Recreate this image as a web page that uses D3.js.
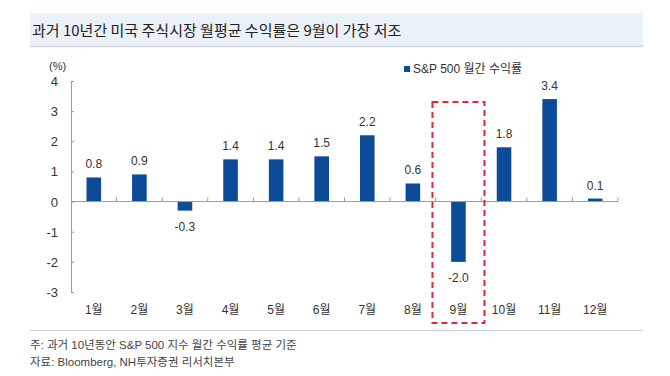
<!DOCTYPE html>
<html>
<head>
<meta charset="utf-8">
<script src="https://cdn.jsdelivr.net/npm/d3@7"></script>
<style>
  body { margin: 0; background: #fff; }
  svg { display: block; }
</style>
</head>
<body>
<svg id="chart" width="670" height="376"></svg>
<script>
const months = ["1월", "2월", "3월", "4월", "5월", "6월", "7월", "8월", "9월", "10월", "11월", "12월"];
const returns = [0.8, 0.9, -0.3, 1.4, 1.4, 1.5, 2.2, 0.6, -2.0, 1.8, 3.4, 0.1];
const yTicks = [-3, -2, -1, 0, 1, 2, 3, 4];
const highlightMonth = "9월";

const titleText = "과거 10년간 미국 주식시장 월평균 수익률은 9월이 가장 저조";
const legendText = "S&P 500 월간 수익률";
const noteLines = ["주: 과거 10년동안 S&P 500 지수 월간 수익률 평균 기준", "자료: Bloomberg, NH투자증권 리서치본부"];

const svg = d3.select("#chart");
const font = "'Liberation Sans', 'Noto Sans CJK KR', sans-serif";
const barColor = "#0c4b98";

// title band
svg.append("rect")
    .attr("x", 30).attr("y", 13)
    .attr("width", 613).attr("height", 33)
    .attr("fill", "#ebf1f9");
svg.append("line")
    .attr("x1", 30).attr("x2", 643)
    .attr("y1", 46.5).attr("y2", 46.5)
    .attr("stroke", "#d4d8de").attr("stroke-width", 1.5);
svg.append("text")
    .attr("x", 32).attr("y", 36)
    .attr("font-family", "'Noto Sans CJK KR', sans-serif")
    .attr("font-size", 15)
    .attr("fill", "#222")
    .text(titleText);

const x = d3.scaleBand()
    .domain(months)
    .range([71, 618])
    .paddingInner(0.68)
    .paddingOuter(0.34);

const y = d3.scaleLinear()
    .domain([-3, 4])
    .range([292, 81]);

const g = svg.append("g");

// y axis
const yAxis = g.append("g")
    .attr("transform", "translate(71,0)")
    .call(d3.axisRight(y).tickValues(yTicks).tickSize(3).tickFormat(""));
yAxis.select(".domain").attr("stroke", "#9a9a9a");
yAxis.selectAll(".tick line").attr("stroke", "#9a9a9a");

g.selectAll(".ylab")
    .data(yTicks)
    .enter().append("text")
    .attr("x", 58)
    .attr("y", d => y(d) + 5)
    .attr("text-anchor", "end")
    .attr("font-family", font)
    .attr("font-size", 13)
    .attr("fill", "#333")
    .text(d => d);

svg.append("text")
    .attr("x", 49).attr("y", 70)
    .attr("font-family", font)
    .attr("font-size", 11)
    .attr("fill", "#333")
    .text("(%)");

// bars
g.selectAll(".bar")
    .data(returns)
    .enter().append("rect")
    .attr("x", (d, i) => x(months[i]))
    .attr("y", d => y(Math.max(0, d)))
    .attr("width", x.bandwidth())
    .attr("height", d => Math.abs(y(d) - y(0)))
    .attr("fill", barColor);

// zero line with category ticks
g.append("line")
    .attr("x1", 71).attr("x2", 618)
    .attr("y1", y(0)).attr("y2", y(0))
    .attr("stroke", "#9a9a9a");
const step = x.step();
g.selectAll(".ctick")
    .data(d3.range(1, months.length + 1))
    .enter().append("line")
    .attr("x1", i => 71 + i * step).attr("x2", i => 71 + i * step)
    .attr("y1", y(0)).attr("y2", y(0) - 4)
    .attr("stroke", "#9a9a9a");

// value labels
g.selectAll(".vlab")
    .data(returns)
    .enter().append("text")
    .attr("x", (d, i) => x(months[i]) + x.bandwidth() / 2)
    .attr("y", d => d >= 0 ? y(d) - 9 : y(d) + 20)
    .attr("text-anchor", "middle")
    .attr("font-family", font)
    .attr("font-size", 12)
    .attr("fill", "#333")
    .text(d => d.toFixed(1));

// month labels
g.selectAll(".mlab")
    .data(months)
    .enter().append("text")
    .attr("x", d => x(d) + x.bandwidth() / 2)
    .attr("y", 314)
    .attr("text-anchor", "middle")
    .attr("font-family", font)
    .attr("font-size", 12)
    .attr("fill", "#333")
    .text(d => d);

// highlight box around September
const hx = x(highlightMonth) + x.bandwidth() / 2;
svg.append("rect")
    .attr("x", hx - 26).attr("y", 102)
    .attr("width", 52).attr("height", 221)
    .attr("fill", "none")
    .attr("stroke", "#e0283c")
    .attr("stroke-width", 2)
    .attr("stroke-dasharray", "6,4");

// legend
svg.append("rect")
    .attr("x", 404).attr("y", 66)
    .attr("width", 6).attr("height", 6)
    .attr("fill", barColor);
svg.append("text")
    .attr("x", 413).attr("y", 73)
    .attr("font-family", font)
    .attr("font-size", 12)
    .attr("fill", "#333")
    .text(legendText);

// footer
svg.append("line")
    .attr("x1", 30).attr("x2", 643)
    .attr("y1", 330.5).attr("y2", 330.5)
    .attr("stroke", "#cfcfcf");
svg.selectAll(".note")
    .data(noteLines)
    .enter().append("text")
    .attr("x", 30)
    .attr("y", (d, i) => 349 + i * 17)
    .attr("font-family", font)
    .attr("font-size", 11.5)
    .attr("fill", "#444")
    .text(d => d);
</script>
</body>
</html>
